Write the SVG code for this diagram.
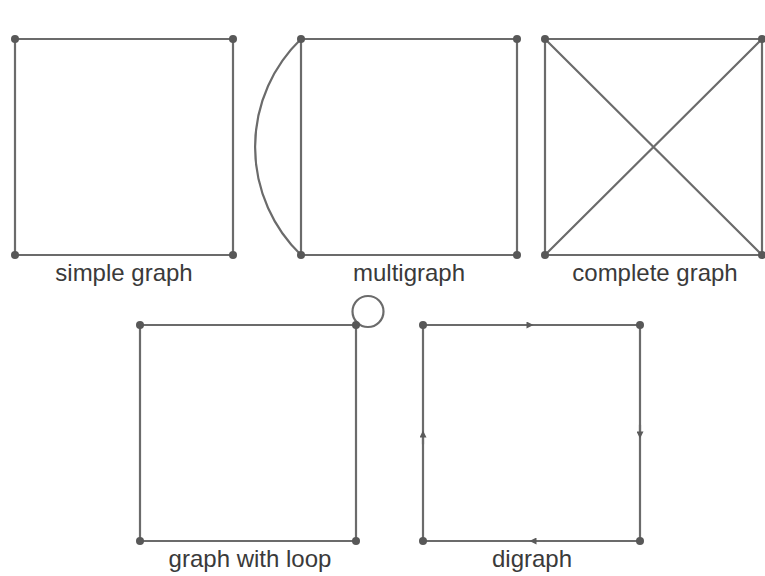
<svg xmlns="http://www.w3.org/2000/svg" width="765" height="576" viewBox="0 0 765 576">
<style>
.e{stroke:#6b6b6b;stroke-width:2.2;fill:none;stroke-linecap:round}
.v{fill:#585858}
.t{font-family:"Liberation Sans",Arial,sans-serif;font-size:24px;fill:#3a3a3a;text-anchor:middle}
</style>
<defs>
<marker id="ah" viewBox="0 0 10 10" refX="5" refY="5" markerWidth="10" markerHeight="7" markerUnits="userSpaceOnUse" orient="auto">
<path d="M0,0 L10,5 L0,10 z" fill="#5a5a5a"/>
</marker>
</defs>
<rect width="765" height="576" fill="#fff"/>
<g id="connectors">
<!-- simple graph -->
<path class="e" d="M15,39 H233 V255 H15 Z"/>
<!-- multigraph -->
<path class="e" d="M301,39 H517 V255 H301 Z"/>
<path class="e" d="M301,39 A150,150 0 0 0 301,255" stroke-width="1.8"/>
<!-- complete graph -->
<path class="e" d="M545,39 H762 V255 H545 Z"/>
<path class="e" d="M545,39 L762,255 M762,39 L545,255" stroke-width="1.8"/>
<!-- graph with loop -->
<path class="e" d="M140,325 H356 V541 H140 Z"/>
<circle class="e" cx="368" cy="311.5" r="15.5" stroke-width="1.8"/>
<!-- digraph -->
<path class="e" d="M423,325 H640 V541 H423 Z"/>
<path class="e" d="M520,325 L530,325" marker-end="url(#ah)"/>
<path class="e" d="M640,425 L640,435" marker-end="url(#ah)"/>
<path class="e" d="M543,541 L533,541" marker-end="url(#ah)"/>
<path class="e" d="M423,444 L423,434" marker-end="url(#ah)"/>
</g>
<g id="simple-graph">
<circle class="v" cx="15" cy="39" r="4"/><circle class="v" cx="233" cy="39" r="4"/>
<circle class="v" cx="15" cy="255" r="4"/><circle class="v" cx="233" cy="255" r="4"/>
<text class="t" x="124" y="281">simple graph</text>
</g>
<g id="multigraph">
<circle class="v" cx="301" cy="39" r="4"/><circle class="v" cx="517" cy="39" r="4"/>
<circle class="v" cx="301" cy="255" r="4"/><circle class="v" cx="517" cy="255" r="4"/>
<text class="t" x="409" y="281">multigraph</text>
</g>
<g id="complete-graph">
<circle class="v" cx="545" cy="39" r="4"/><circle class="v" cx="762" cy="39" r="4"/>
<circle class="v" cx="545" cy="255" r="4"/><circle class="v" cx="762" cy="255" r="4"/>
<text class="t" x="655" y="281">complete graph</text>
</g>
<g id="graph-with-loop">
<circle class="v" cx="140" cy="325" r="4"/><circle class="v" cx="356" cy="325" r="4"/>
<circle class="v" cx="140" cy="541" r="4"/><circle class="v" cx="356" cy="541" r="4"/>
<text class="t" x="250" y="567">graph with loop</text>
</g>
<g id="digraph">
<circle class="v" cx="423" cy="325" r="4"/><circle class="v" cx="640" cy="325" r="4"/>
<circle class="v" cx="423" cy="541" r="4"/><circle class="v" cx="640" cy="541" r="4"/>
<text class="t" x="532" y="567">digraph</text>
</g>
</svg>
